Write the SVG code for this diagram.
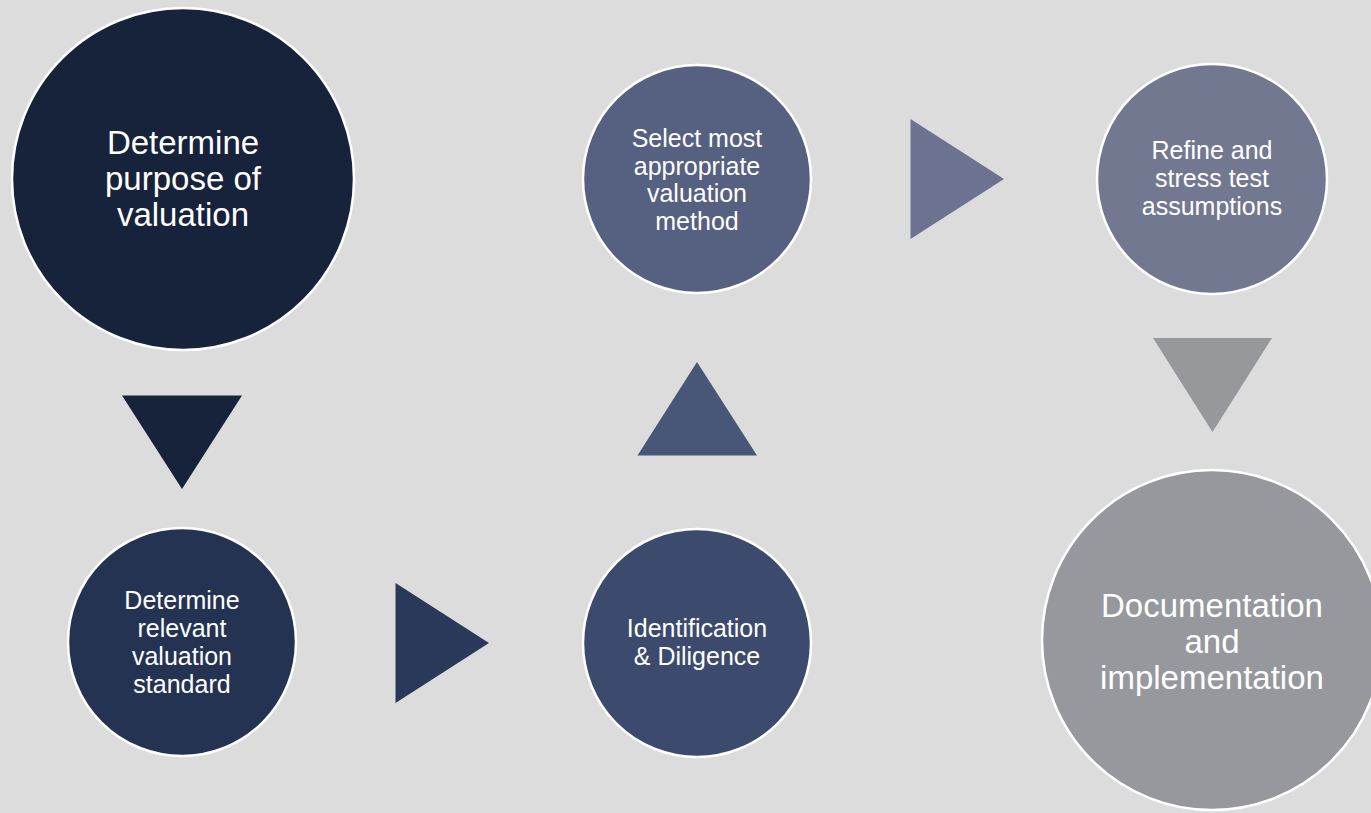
<svg xmlns="http://www.w3.org/2000/svg" width="1371" height="813" viewBox="0 0 1371 813">
  <style>
    .step { stroke: #ffffff; stroke-width: 2.5; }
    .lbl { font-family: "Liberation Sans", Arial, sans-serif; fill: #ffffff; text-anchor: middle; }
    .big { font-size: 33px; }
    .small { font-size: 25px; }
  </style>
  <rect x="0" y="0" width="1371" height="813" fill="#dcdcdc"/>

  <!-- connectors: solid triangle arrows between steps -->
  <g id="connectors">
    <polygon points="122,395.5 242,395.5 182,489" fill="#17223b"/>
    <polygon points="395.5,583 395.5,703 489,643" fill="#2a3859"/>
    <polygon points="637.5,455.5 757,455.5 697,362" fill="#485677"/>
    <polygon points="910.5,119 910.5,239 1004,179" fill="#6b7390"/>
    <polygon points="1153,338 1272,338 1212.5,432" fill="#97989c"/>
  </g>

  <g id="step1">
    <circle class="step" cx="183" cy="179" r="171" fill="#17223b"/>
    <text class="lbl big" x="183" y="154">Determine</text>
    <text class="lbl big" x="183" y="190">purpose of</text>
    <text class="lbl big" x="183" y="226">valuation</text>
  </g>

  <g id="step2">
    <circle class="step" cx="182" cy="642" r="114" fill="#253353"/>
    <text class="lbl small" x="182" y="609">Determine</text>
    <text class="lbl small" x="182" y="637">relevant</text>
    <text class="lbl small" x="182" y="665">valuation</text>
    <text class="lbl small" x="182" y="693">standard</text>
  </g>

  <g id="step3">
    <circle class="step" cx="697" cy="643" r="114" fill="#3b4a6d"/>
    <text class="lbl small" x="697" y="637">Identification</text>
    <text class="lbl small" x="697" y="665">&amp; Diligence</text>
  </g>

  <g id="step4">
    <circle class="step" cx="697" cy="179" r="114" fill="#566181"/>
    <text class="lbl small" x="697" y="147">Select most</text>
    <text class="lbl small" x="697" y="175">appropriate</text>
    <text class="lbl small" x="697" y="202">valuation</text>
    <text class="lbl small" x="697" y="230">method</text>
  </g>

  <g id="step5">
    <circle class="step" cx="1212" cy="179" r="115" fill="#737891"/>
    <text class="lbl small" x="1212" y="159">Refine and</text>
    <text class="lbl small" x="1212" y="187">stress test</text>
    <text class="lbl small" x="1212" y="215">assumptions</text>
  </g>

  <g id="step6">
    <circle class="step" cx="1212" cy="640" r="170" fill="#97989d"/>
    <text class="lbl big" x="1212" y="617">Documentation</text>
    <text class="lbl big" x="1212" y="653">and</text>
    <text class="lbl big" x="1212" y="689">implementation</text>
  </g>
</svg>
